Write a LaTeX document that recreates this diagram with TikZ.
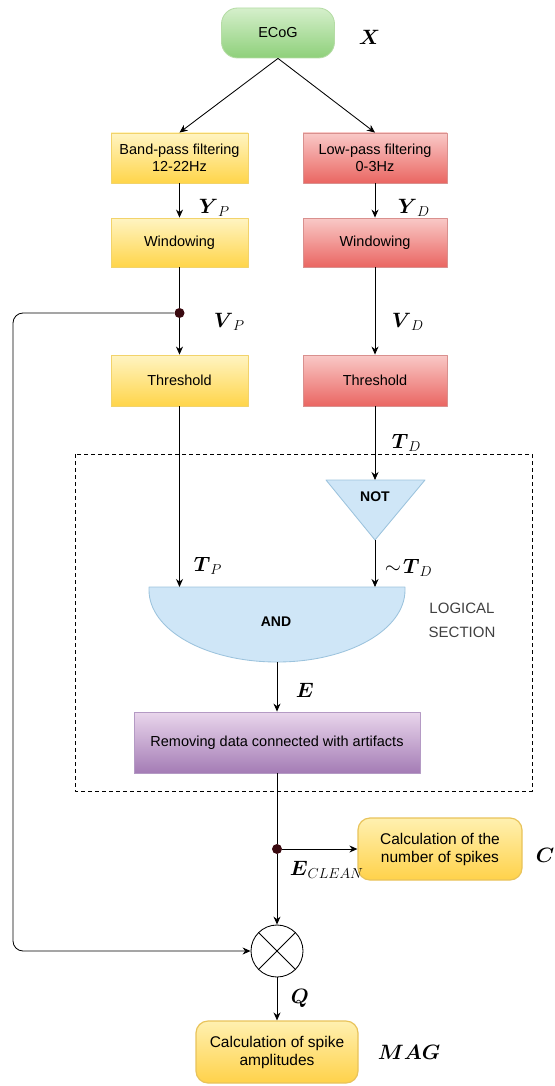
\documentclass[tikz,border=0pt]{standalone}
\usepackage{amsmath}
\usepackage{fontspec}
\setmainfont{Liberation Sans}
\usetikzlibrary{arrows.meta}
\definecolor{ecogtop}{HTML}{D5EFCB}
\definecolor{ecogbot}{HTML}{8ED07A}
\definecolor{ecogline}{HTML}{B5DCA5}
\definecolor{yeltop}{HTML}{FFF4C2}
\definecolor{yelbot}{HTML}{FFD54A}
\definecolor{yelline}{HTML}{F2D36B}
\definecolor{redtop}{HTML}{F9C9C7}
\definecolor{redbot}{HTML}{EA6662}
\definecolor{redline}{HTML}{D9908E}
\definecolor{bluefill}{HTML}{CFE6F7}
\definecolor{blueline}{HTML}{9CC3DD}
\definecolor{purtop}{HTML}{E9D6EC}
\definecolor{purbot}{HTML}{A47CB5}
\definecolor{purline}{HTML}{B49AC4}
\definecolor{calctop}{HTML}{FFF0B0}
\definecolor{calcbot}{HTML}{FFD24A}
\definecolor{calcline}{HTML}{E8C35A}
\definecolor{dotcol}{HTML}{3A0A10}
\begin{document}
\begin{tikzpicture}[x=1pt,y=-1pt,>={Stealth[length=8pt,width=7pt]}, line width=0.85pt, line join=round,
	box/.style={draw, minimum height=50pt, inner sep=2pt, align=center, font=\fontsize{14.5}{17}\selectfont},
	yelbox/.style={box, draw=yelline, top color=yeltop, bottom color=yelbot, minimum width=137pt},
	redbox/.style={box, draw=redline, top color=redtop, bottom color=redbot, minimum width=144pt},
	calcbox/.style={box, rounded corners=12pt, draw=calcline, line width=1.2pt, top color=calctop, bottom color=calcbot, minimum height=62pt, font=\fontsize{15.5}{18}\selectfont},
	gate/.style={draw=blueline, fill=bluefill},
	lbl/.style={anchor=west, font=\huge},
	dot/.style={circle, fill=dotcol, inner sep=0pt, minimum size=10pt}]
	\useasboundingbox (0,0) rectangle (554,1086);
	% input and the two filter branches
	\node[box, draw=ecogline, top color=ecogtop, bottom color=ecogbot, rounded corners=16pt, minimum width=113pt] (ecog) at (278,33) {ECoG};
	\node[lbl] (xl) at (355,37) {$\boldsymbol{X}$};
	\node[yelbox] (bpf) at (179.5,158) {Band-pass filtering\\12-22Hz};
	\node[redbox] (lpf) at (375,158) {Low-pass filtering\\0-3Hz};
	\node[yelbox, minimum height=49pt] (wp) at (179.5,242.5) {Windowing};
	\node[redbox, minimum height=49pt] (wd) at (375,242.5) {Windowing};
	\node[dot] (vp) at (179.5,313) {};
	\node[yelbox, minimum height=51pt] (tp) at (179.5,380.5) {Threshold};
	\node[redbox, minimum height=51pt] (td) at (375,380.5) {Threshold};
	\draw[->] (ecog.south) -- (bpf.north);
	\draw[->] (ecog.south) -- (lpf.north);
	\draw[->] (bpf) -- (wp);
	\draw[->] (lpf) -- (wd);
	\draw (wp) -- (vp);
	\draw[->] (vp) -- (tp);
	\draw[->] (wd) -- (td);
	\node[lbl] (ypl) at (195,208) {$\boldsymbol{Y}_{P}$};
	\node[lbl] (ydl) at (394,208) {$\boldsymbol{Y}_{D}$};
	\node[lbl] (vpl) at (210,322) {$\boldsymbol{V}_{P}$};
	\node[lbl] (vdl) at (388,322) {$\boldsymbol{V}_{D}$};
	\node[lbl] (tdl) at (388,443) {$\boldsymbol{T}_{D}$};
	% logical section
	\draw[dash pattern=on 4pt off 3pt] (75,454) rectangle (532,791);
	\coordinate (notL) at (326,480);
	\coordinate (notR) at (425,480);
	\coordinate (notB) at (375,540);
	\draw[gate] (notL) -- (notR) -- (notB) -- cycle;
	\node[font=\fontsize{14}{17}\selectfont\bfseries] (nott) at (375,497) {NOT};
	\coordinate (andL) at (149,587);
	\coordinate (andR) at (405,587);
	\coordinate (andB) at (277,662);
	\draw[gate] (andL) -- (andR) -- (405,590) .. controls (405,630) and (348,662) .. (andB) .. controls (206,662) and (149,630) .. (149,590) -- cycle;
	\node[font=\fontsize{14}{17}\selectfont\bfseries] (andt) at (276,622) {AND};
	\draw[->] (td) -- (td.south |- notL);
	\draw[->] (notB) -- (notB |- andL);
	\draw[->] (tp) -- (tp.south |- andL);
	\node[lbl] (tpl) at (190,566) {$\boldsymbol{T}_{P}$};
	\node[lbl] (ntdl) at (381,568) {$\sim\!\boldsymbol{T}_{D}$};
	\node[font=\fontsize{15}{24}\selectfont, align=center, text=black!75] (logic) at (462,620) {LOGICAL\\SECTION};
	\node[box, draw=purline, top color=purtop, bottom color=purbot, minimum width=286pt, minimum height=61pt] (rem) at (277,742.5) {Removing data connected with artifacts};
	\draw[->] (andB) -- (rem);
	\node[lbl] (el) at (292,690) {$\boldsymbol{E}$};
	% outputs
	\node[dot] (ed) at (277,849) {};
	\node[calcbox, minimum width=164pt] (cnt) at (440,849) {Calculation of the\\number of spikes};
	\node[draw, circle, fill=white, inner sep=0pt, minimum size=52pt] (mult) at (277,951) {};
	\draw (mult.north west) -- (mult.south east) (mult.north east) -- (mult.south west);
	\node[calcbox, minimum width=162pt] (mag) at (277,1052) {Calculation of spike\\amplitudes};
	\draw (rem) -- (ed);
	\draw[->] (ed) -- (cnt);
	\draw[->] (ed) -- (mult);
	\draw[->] (mult) -- (mag);
	\coordinate (fb) at (13,313);
	\draw[->, rounded corners=10pt] (vp.west) -- (fb) |- (mult.west);
	\node[lbl] (ecl) at (286,870) {$\boldsymbol{E}_{CLEAN}$};
	\node[lbl] (cl) at (532,855) {$\boldsymbol{C}$};
	\node[lbl] (ql) at (287,998) {$\boldsymbol{Q}$};
	\node[lbl] (magl) at (374,1052) {$\boldsymbol{MAG}$};
\end{tikzpicture}
\end{document}
